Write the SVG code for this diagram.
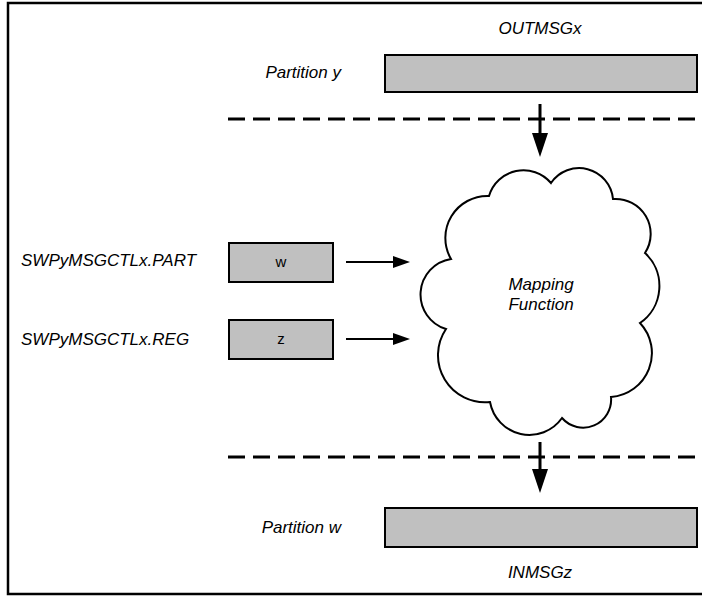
<svg xmlns="http://www.w3.org/2000/svg" width="702" height="596" viewBox="0 0 702 596">
  <style>
    .lbl { font-family: "Liberation Sans", Arial, sans-serif; font-style: italic; font-size: 17px; fill: #000; }
    .val { font-family: "Liberation Sans", Arial, sans-serif; font-size: 15px; fill: #000; }
    .box { fill: #c0c0c0; stroke: #000; stroke-width: 2; }
    .dash { stroke: #000; stroke-width: 3; stroke-dasharray: 17 8; fill: none; }
    .big { stroke: #000; stroke-width: 3; fill: none; }
    .small { stroke: #000; stroke-width: 2; fill: none; }
    .cloud { fill: #fff; stroke: #000; stroke-width: 2; }
  </style>
  <defs>
    <marker id="bigHead" markerUnits="userSpaceOnUse" markerWidth="24" markerHeight="16" refX="0" refY="8" orient="auto">
      <path d="M0,0 L24,8 L0,16 z" fill="#000"/>
    </marker>
    <marker id="smallHead" markerUnits="userSpaceOnUse" markerWidth="17" markerHeight="12" refX="0" refY="6" orient="auto">
      <path d="M0,0 L17,6 L0,12 z" fill="#000"/>
    </marker>
  </defs>

  <rect width="702" height="596" fill="#fff"/>
  <path d="M702,3 H8 V594 H702" fill="none" stroke="#000" stroke-width="2.5"/>

  <g id="separators">
    <line class="dash" x1="228" y1="119" x2="697" y2="119"/>
    <line class="dash" x1="228" y1="457" x2="697" y2="457"/>
  </g>

  <g id="outmsg">
    <rect class="box" x="385" y="55" width="312" height="37"/>
    <text class="lbl" x="540" y="34" text-anchor="middle">OUTMSGx</text>
    <text class="lbl" x="341" y="78" text-anchor="end">Partition y</text>
  </g>

  <g id="part">
    <rect class="box" x="229" y="243" width="104" height="39"/>
    <text class="val" x="281" y="267" text-anchor="middle">w</text>
    <text class="lbl" x="21" y="266">SWPyMSGCTLx.PART</text>
  </g>

  <g id="reg">
    <rect class="box" x="229" y="320" width="104" height="39"/>
    <text class="val" x="281" y="344" text-anchor="middle">z</text>
    <text class="lbl" x="21" y="345">SWPyMSGCTLx.REG</text>
  </g>

  <g id="mapping">
    <path class="cloud" d="M489,196 A36,36 0 0 1 551,183 A34,34 0 0 1 613,199 A35,35 0 0 1 645,253 A45,45 0 0 1 640,323 A44,44 0 0 1 611,397 A28,28 0 0 1 562,418 A40,40 0 0 1 490,402 A47,47 0 0 1 446,329 A36,36 0 0 1 451,259 A42,42 0 0 1 489,196 Z"/>
    <text class="lbl" x="541" y="290" text-anchor="middle">Mapping</text>
    <text class="lbl" x="541" y="310" text-anchor="middle">Function</text>
  </g>

  <g id="inmsg">
    <rect class="box" x="385" y="508" width="312" height="39"/>
    <text class="lbl" x="540" y="578" text-anchor="middle">INMSGz</text>
    <text class="lbl" x="341" y="533" text-anchor="end">Partition w</text>
  </g>

  <g id="connectors">
    <line class="big" x1="540" y1="104" x2="540" y2="133" marker-end="url(#bigHead)"/>
    <line class="big" x1="540" y1="442" x2="540" y2="469" marker-end="url(#bigHead)"/>
    <line class="small" x1="346" y1="262" x2="393" y2="262" marker-end="url(#smallHead)"/>
    <line class="small" x1="346" y1="339" x2="393" y2="339" marker-end="url(#smallHead)"/>
  </g>
</svg>
